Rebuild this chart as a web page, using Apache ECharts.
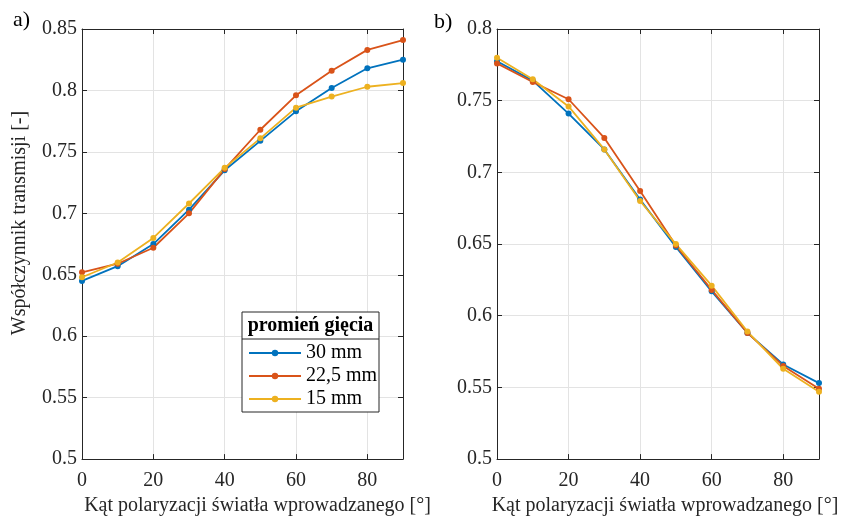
<!DOCTYPE html>
<html>
<head>
<meta charset="utf-8">
<script src="https://cdn.jsdelivr.net/npm/echarts@6/dist/echarts.min.js"></script>
<style>html,body{margin:0;padding:0;background:#fff}#c{width:856px;height:521px}</style>
</head>
<body>
<div id="c"></div>
<script>
const angles = [0, 10, 20, 30, 40, 50, 60, 70, 80, 90];
const seriesNames = ['30 mm', '22,5 mm', '15 mm'];
const a30  = [0.645, 0.657, 0.675, 0.703, 0.735, 0.759, 0.783, 0.802, 0.818, 0.825];
const a225 = [0.652, 0.659, 0.672, 0.700, 0.736, 0.768, 0.796, 0.816, 0.833, 0.841];
const a15  = [0.648, 0.660, 0.680, 0.708, 0.737, 0.761, 0.786, 0.795, 0.803, 0.806];
const b30  = [0.7775, 0.764, 0.741, 0.716, 0.681, 0.648, 0.617, 0.588, 0.566, 0.553];
const b225 = [0.776, 0.763, 0.751, 0.724, 0.687, 0.649, 0.618, 0.588, 0.565, 0.549];
const b15  = [0.780, 0.765, 0.746, 0.716, 0.680, 0.650, 0.621, 0.589, 0.563, 0.547];
const xTitle = 'Kąt polaryzacji światła wprowadzanego [°]';
const yTitle = 'Współczynnik transmisji [-]';
const legendTitle = 'promień gięcia';

const colors = ['#0072BD', '#D95319', '#EDB120'];
const FONT = '"Liberation Serif", "DejaVu Serif", serif';
const zip = (xs, ys) => xs.map((x, i) => [x, ys[i]]);

function xAx(grid, pos, show, nameShift) {
  return {
    type: 'value', gridIndex: grid, position: pos, min: 0, max: 90, interval: 20,
    name: show ? xTitle : '', nameLocation: 'middle', nameGap: 22,
    nameTextStyle: { fontFamily: FONT, fontSize: 20, color: '#262626', padding: [0, 0, 0, nameShift || 0] },
    axisLine: { show: true, onZero: false, lineStyle: { color: '#262626', width: 1 } },
    axisTick: { show: true, inside: true, length: 5, lineStyle: { color: '#262626' } },
    axisLabel: { show: show, showMaxLabel: false, margin: 12, fontFamily: FONT, fontSize: 20, color: '#262626' },
    splitLine: { show: show, lineStyle: { color: '#e3e3e3', width: 1 } }
  };
}
function yAx(grid, pos, show, min, max, name) {
  return {
    type: 'value', gridIndex: grid, position: pos, min: min, max: max, interval: 0.05,
    name: name || '', nameLocation: 'middle', nameGap: 52, nameRotate: 90,
    nameTextStyle: { fontFamily: FONT, fontSize: 20, color: '#262626', padding: [0, 0, 0, 42] },
    axisLine: { show: true, onZero: false, lineStyle: { color: '#262626', width: 1 } },
    axisTick: { show: true, inside: true, length: 5, lineStyle: { color: '#262626' } },
    axisLabel: { show: show, margin: 5, fontFamily: FONT, fontSize: 20, color: '#262626' },
    splitLine: { show: show, lineStyle: { color: '#e3e3e3', width: 1 } }
  };
}
function ser(name, data, ci, xi, yi) {
  return {
    type: 'line', name: name, data: data, xAxisIndex: xi, yAxisIndex: yi,
    symbol: 'circle', symbolSize: 6, showSymbol: true,
    lineStyle: { color: colors[ci], width: 1.8 },
    itemStyle: { color: colors[ci] },
    animation: false
  };
}

const chart = echarts.init(document.getElementById('c'), null, { renderer: 'canvas' });
chart.setOption({
  animation: false,
  textStyle: { fontFamily: FONT },
  grid: [
    { left: 82, top: 29, width: 321, height: 436 },
    { left: 497, top: 29, width: 322, height: 435 }
  ],
  xAxis: [
    xAx(0, 'bottom', true, 30),
    xAx(0, 'top', false),
    xAx(1, 'bottom', true, 14),
    xAx(1, 'top', false)
  ],
  yAxis: [
    yAx(0, 'left', true, 0.5, 0.85, yTitle),
    yAx(0, 'right', false, 0.5, 0.85),
    yAx(1, 'left', true, 0.5, 0.8),
    yAx(1, 'right', false, 0.5, 0.8)
  ],
  legend: {
    data: seriesNames, orient: 'vertical', left: 248, top: 343, padding: 0,
    itemWidth: 52, itemHeight: 8, itemGap: 3,
    textStyle: { fontFamily: FONT, fontSize: 20, color: '#000', lineHeight: 20 }
  },
  graphic: [
    { type: 'rect', shape: { x: 242, y: 312, width: 137, height: 100 }, style: { fill: '#fff', stroke: '#262626', lineWidth: 1 }, z: 4 },
    { type: 'line', shape: { x1: 242, y1: 339, x2: 379, y2: 339 }, style: { stroke: '#262626', lineWidth: 1 }, z: 5 },
    { type: 'text', x: 310.5, y: 326, z: 5, style: { text: legendTitle, font: 'bold 20px "Liberation Serif"', fill: '#000', textAlign: 'center', textVerticalAlign: 'middle' } },
    { type: 'text', x: 13, y: 9, z: 5, style: { text: 'a)', font: '22px "Liberation Serif"', fill: '#000' } },
    { type: 'text', x: 434, y: 11, z: 5, style: { text: 'b)', font: '22px "Liberation Serif"', fill: '#000' } }
  ],
  series: [
    ser(seriesNames[0], zip(angles, a30), 0, 0, 0),
    ser(seriesNames[1], zip(angles, a225), 1, 0, 0),
    ser(seriesNames[2], zip(angles, a15), 2, 0, 0),
    ser(seriesNames[0], zip(angles, b30), 0, 2, 2),
    ser(seriesNames[1], zip(angles, b225), 1, 2, 2),
    ser(seriesNames[2], zip(angles, b15), 2, 2, 2)
  ]
});
</script>
</body>
</html>
